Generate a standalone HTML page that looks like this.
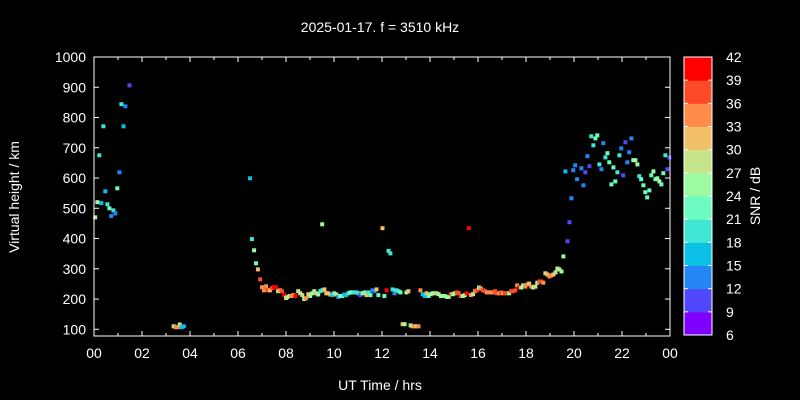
<!DOCTYPE html>
<html><head><meta charset="utf-8"><style>
html,body{margin:0;padding:0;background:#000;}
svg{display:block;font-family:"Liberation Sans",sans-serif;}
text{fill:#fff;font-size:14px;}
</style></head><body>
<svg id="chart" width="800" height="400" viewBox="0 0 800 400" xmlns="http://www.w3.org/2000/svg">
<rect width="800" height="400" fill="#000"/>
<text x="380" y="32" text-anchor="middle">2025-01-17. f = 3510 kHz</text>
<text x="380" y="390" text-anchor="middle">UT Time / hrs</text>
<text transform="translate(19,197) rotate(-90)" text-anchor="middle">Virtual height / km</text>
<text transform="translate(760,196) rotate(-90)" text-anchor="middle">SNR / dB</text>
<g id="marks"></g>
<g id="axes"></g>
<g id="cbar"></g>
</svg>
<script>
const times=[1.48,1.14,1.31,0.39,1.23,0.22,1.06,0.97,0.47,0.14,0.31,0.56,0.64,0.81,0.89,0.72,0.05,
6.5,6.58,6.67,6.75,6.83,6.92,7.0,7.08,7.17,7.25,7.33,7.42,7.5,7.58,7.67,7.75,7.83,7.92,8.0,8.05,8.14,8.22,8.3,8.39,
3.32,3.4,3.49,3.57,3.65,3.74,
8.51,8.59,8.68,8.76,8.84,8.93,9.01,9.09,9.18,9.26,9.34,9.43,9.51,9.51,9.6,9.68,9.76,9.85,9.93,10.01,10.1,10.18,10.26,10.35,10.43,10.51,10.6,10.68,10.77,10.85,10.93,11.02,11.1,11.19,11.27,11.35,11.44,11.52,11.6,11.69,11.77,11.85,12.02,12.1,12.19,12.27,12.35,12.44,12.52,12.6,12.69,12.77,13.02,13.1,
12.86,12.94,13.19,13.27,13.35,13.44,13.52,
13.6,13.69,13.78,13.86,13.94,14.03,14.11,14.19,14.28,14.36,14.45,14.53,14.61,14.7,14.78,14.87,14.95,15.03,15.12,15.2,15.28,15.37,15.45,15.53,15.62,15.7,15.79,15.87,15.95,16.04,16.12,16.21,16.29,16.37,16.46,16.54,16.62,16.71,16.79,16.88,16.96,17.04,17.13,17.21,17.3,17.38,17.46,17.55,17.63,17.72,17.8,17.88,17.97,18.05,18.13,18.22,18.3,18.39,18.47,18.56,18.64,18.72,18.81,18.89,18.97,19.06,19.14,19.23,19.31,19.39,19.48,19.56,19.73,19.81,
19.89,19.64,19.97,20.05,20.13,20.31,20.39,20.47,20.56,20.64,20.72,20.81,20.89,20.97,21.06,21.14,21.22,21.31,21.39,21.47,21.56,21.64,21.72,21.81,21.89,21.97,22.05,22.14,22.22,22.3,22.39,22.47,22.56,22.64,22.72,22.8,22.89,22.97,23.05,23.14,23.22,23.31,23.39,23.47,23.56,23.64,23.72,23.81,23.89,23.97];
const heights=[906,844,837,771,771,675,619,566,556,520,517,513,500,493,483,474,470,
599,398,361,318,298,265,239,229,242,229,229,236,239,239,226,229,226,213,203,206,210,210,213,210,
110,107,107,116,107,110,
226,219,213,200,203,216,210,219,226,219,215,226,447,229,232,219,219,215,213,219,215,207,210,210,215,213,219,222,222,222,222,219,213,219,222,213,222,213,229,226,232,213,434,210,229,359,351,232,219,229,226,222,222,226,
117,117,113,110,110,110,110,
229,216,210,219,210,216,219,219,219,216,210,210,210,207,207,216,216,219,222,219,210,210,213,219,434,213,216,226,229,238,235,229,226,222,222,222,222,226,219,219,222,219,219,219,219,226,226,229,245,238,238,245,241,248,251,241,238,241,254,258,258,254,285,281,275,278,281,288,301,298,291,341,391,454,
533,622,626,642,596,632,576,619,672,639,738,708,731,741,645,629,715,668,682,652,579,635,589,619,675,698,609,718,652,685,731,659,659,645,606,596,576,553,536,559,609,622,596,599,589,579,616,675,629,668];
const snr=[11,20,14,20,16,20,13,21,16,26,16,20,21,20,14,13,28,
17,20,24,23,32,37,35,35,34,37,32,38,40,41,28,35,38,39,32,25,26,34,33,41,
25,33,34,28,17,16,
28,27,28,24,33,32,25,24,25,32,25,20,24,20,32,30,32,31,16,23,28,14,22,22,15,17,20,22,22,20,19,18,11,24,22,32,20,22,12,14,32,22,31,22,39,20,18,18,14,19,18,22,24,32,
32,24,24,32,33,32,33,
34,17,17,32,22,25,25,26,30,25,24,24,25,25,25,37,26,24,37,38,38,24,25,42,42,33,28,34,38,26,35,38,38,35,35,35,34,38,38,35,38,35,38,38,25,38,38,37,35,39,26,26,35,34,32,33,29,27,25,38,38,33,29,32,33,33,32,29,26,27,24,24,10,10,
13,17,13,13,13,13,13,10,13,10,20,19,21,21,19,13,14,19,23,22,22,22,22,19,19,13,10,10,13,13,14,24,26,26,20,22,22,22,22,22,22,25,22,25,25,22,22,19,10,10];
const yTicks=[100,200,300,400,500,600,700,800,900,1000];
const xTickLabels=["00","02","04","06","08","10","12","14","16","18","20","22","00"];
const cbLabels=[6,9,12,15,18,21,24,27,30,33,36,39,42];
const cbColors=["#8000ff","#5048fa","#2486f4","#0cc0e6","#40e6d4","#6cfcc0","#9cfaa0","#c8e48a","#f2c06a","#ff8c4a","#ff4a2a","#ff0000"];

const NS="http://www.w3.org/2000/svg";
const L=94,R=670,T=57,B=336;
const xs=h=>L+h*(R-L)/24;
const ys=v=>T+(1000-v)*(329.3-T)/900;
function colorOf(s){let i=Math.floor((s-6)/3);if(i<0)i=0;if(i>11)i=11;return cbColors[i];}
function mk(tag,attrs,parent){const e=document.createElementNS(NS,tag);for(const k in attrs)e.setAttribute(k,attrs[k]);parent.appendChild(e);return e;}

const marks=document.getElementById('marks');
for(let i=0;i<times.length;i++){
  if(times[i]<0||times[i]>24)continue;
  const r=mk('rect',{x:(xs(times[i])-2).toFixed(1),y:(ys(heights[i])-2).toFixed(1),width:4,height:4,fill:colorOf(snr[i])},marks);
  
  
}

const ax=document.getElementById('axes');
const frame=mk('rect',{x:L,y:T,width:R-L,height:B-T,fill:'none',stroke:'#fff','stroke-width':1},ax);


yTicks.forEach(v=>{
  const y=ys(v);
  mk('line',{x1:L,x2:L+5,y1:y,y2:y,stroke:'#fff'},ax);
  mk('line',{x1:R,x2:R-5,y1:y,y2:y,stroke:'#fff'},ax);
  const t=mk('text',{x:L-8,y:y+5,'text-anchor':'end'},ax);
  t.textContent=v;
  
  
});
for(let h=0;h<=24;h++){
  const x=xs(h);const len=h%2===0?5:3;
  mk('line',{x1:x,x2:x,y1:B,y2:B-len,stroke:'#fff'},ax);
  mk('line',{x1:x,x2:x,y1:T,y2:T+len,stroke:'#fff'},ax);
}
xTickLabels.forEach((lab,i)=>{
  const t=mk('text',{x:xs(i*2),y:B+22,'text-anchor':'middle'},ax);
  t.textContent=lab;
  
  
});

const cb=document.getElementById('cbar');
const cL=684,cR=712,cT=57,cB=335,seg=(cB-cT)/12;
cbColors.forEach((c,i)=>{
  const r=mk('rect',{x:cL,y:cB-(i+1)*seg,width:cR-cL,height:seg+0.5,fill:c},cb);
  
  
});
mk('rect',{x:cL,y:cT,width:cR-cL,height:cB-cT,fill:'none',stroke:'#fff'},cb);
cbLabels.forEach((v,i)=>{
  const y=cB-i*seg;
  if(i>0&&i<12){mk('line',{x1:cL,x2:cL+4,y1:y,y2:y,stroke:'#fff'},cb);mk('line',{x1:cR,x2:cR-4,y1:y,y2:y,stroke:'#fff'},cb);}
  const t=mk('text',{x:726,y:y+5},cb);
  t.textContent=v;
  
  
});
</script>
</body></html>
